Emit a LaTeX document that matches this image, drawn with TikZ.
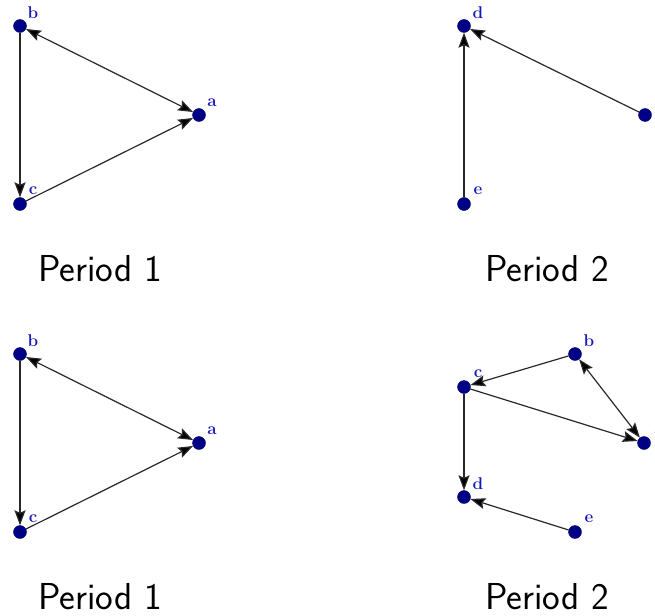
\documentclass[tikz,border=0pt]{standalone}
\usepackage{fontspec}
\usetikzlibrary{arrows.meta}
\definecolor{dotcol}{RGB}{0,0,135}
\definecolor{labcol}{RGB}{25,25,185}
\definecolor{edgecol}{RGB}{40,40,40}
\tikzset{
  vtx/.style={circle,fill=dotcol,draw=dotcol!70!black,line width=0.4pt,minimum size=13pt,inner sep=0pt},
  vlab/.style={text=labcol,font=\bfseries\fontsize{17}{19}\selectfont,inner sep=0pt},
  edg/.style={draw=edgecol,line width=1.2pt,-{Stealth[length=15pt,width=11pt,inset=2.5pt,fill=black]}},
  bedg/.style={draw=edgecol,line width=1.2pt,{Stealth[length=15pt,width=11pt,inset=2.5pt,fill=black]}-{Stealth[length=15pt,width=11pt,inset=2.5pt,fill=black]}},
  ptitle/.style={font=\sffamily\fontsize{37.5}{45}\selectfont,anchor=base,inner sep=0pt}
}
\begin{document}
\begin{tikzpicture}[x=1pt,y=-1pt]
\useasboundingbox (0,0) rectangle (655,615);
\clip (0,0) rectangle (655,615);
% Top-left: Period 1
\node[vtx] (b1) at (20,26) {};
\node[vtx] (a1) at (199,115) {};
\node[vtx] (c1) at (20,204) {};
\node[vlab] (lb1) at (33,13) {b};
\node[vlab] (la1) at (212,103) {a};
\node[vlab] (lc1) at (33,191) {c};
\draw[bedg] (b1) -- (a1);
\draw[edg] (b1) -- (c1);
\draw[edg] (c1) -- (a1);
\node[ptitle] (t1) at (100,281) {Period 1};
% Top-right: Period 2
\node[vtx] (d2) at (464,26) {};
\node[vtx] (e2) at (464,204) {};
\node[vtx] (c2) at (645,115) {};
\node[vlab] (ld2) at (478,13) {d};
\node[vlab] (le2) at (478,191) {e};
\node[vlab] (lc2) at (659,103) {c};
\draw[edg] (e2) -- (d2);
\draw[edg] (c2) -- (d2);
\node[ptitle] (t2) at (547,281) {Period 2};
% Bottom-left: Period 1
\node[vtx] (b3) at (20,354) {};
\node[vtx] (a3) at (199,443) {};
\node[vtx] (c3) at (20,532) {};
\node[vlab] (lb3) at (33,341) {b};
\node[vlab] (la3) at (212,431) {a};
\node[vlab] (lc3) at (33,519) {c};
\draw[bedg] (b3) -- (a3);
\draw[edg] (b3) -- (c3);
\draw[edg] (c3) -- (a3);
\node[ptitle] (t3) at (100,609) {Period 1};
% Bottom-right: Period 2
\node[vtx] (b4) at (575,354) {};
\node[vtx] (c4) at (464,387) {};
\node[vtx] (a4) at (644,443) {};
\node[vtx] (d4) at (464,497) {};
\node[vtx] (e4) at (575,532) {};
\node[vlab] (lb4) at (589,341) {b};
\node[vlab] (lc4) at (478,374) {c};
\node[vlab] (la4) at (659,431) {a};
\node[vlab] (ld4) at (478,484) {d};
\node[vlab] (le4) at (589,519) {e};
\draw[edg] (b4) -- (c4);
\draw[edg] (c4) -- (a4);
\draw[bedg] (b4) -- (a4);
\draw[edg] (c4) -- (d4);
\draw[edg] (e4) -- (d4);
\node[ptitle] (t4) at (547,609) {Period 2};
\end{tikzpicture}
\end{document}
